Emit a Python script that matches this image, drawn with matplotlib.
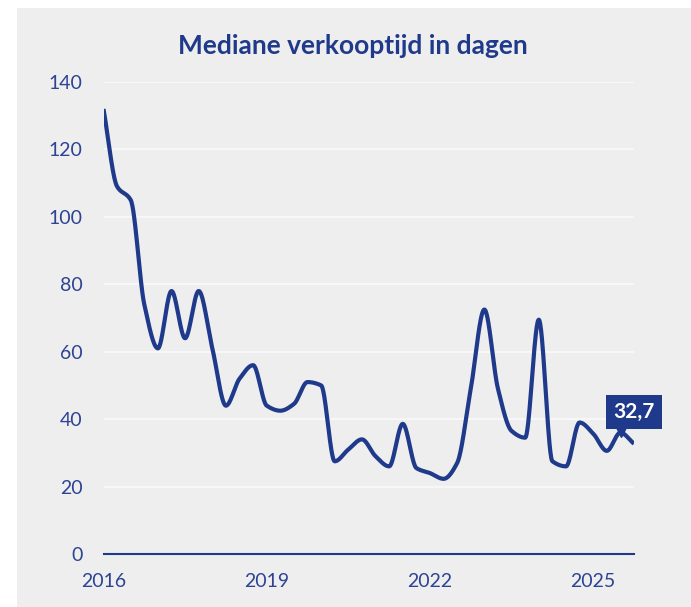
import matplotlib
matplotlib.use("Agg")
import matplotlib.pyplot as plt
from matplotlib.patches import Rectangle
from matplotlib.transforms import offset_copy
import numpy as np

plt.rcParams['font.family'] = ['Lato', 'DejaVu Sans']

BLAUW = '#1f3a8a'
TEKST = '#2d4393'

# kwartalen 2016-K1 .. 2025-K4
kwartalen = [f"{j}-K{k}" for j in range(2016, 2026) for k in range(1, 5)]
verkooptijd = [132, 109, 105, 74, 61, 78, 64, 78, 61, 44,
               52, 56, 44, 42.5, 44.5, 51, 50, 27.5, 31, 34,
               29, 26, 38.6, 25.5, 24, 22.3, 27, 49, 72.5, 49,
               36.5, 34.5, 69.5, 27.5, 26, 39, 35.7, 30.6, 36, 32.7]
jaar_labels = ['2016', '2019', '2022', '2025']
y_ticks = [0, 20, 40, 60, 80, 100, 120, 140]
laatste_label = '32,7'


def monotone_curve(y, n=1200):
    # Fritsch-Carlson monotone cubic, only used to draw a smooth line
    y = np.asarray(y, dtype=float)
    x = np.arange(len(y), dtype=float)
    d = np.diff(y)
    m = np.zeros_like(y)
    m[0], m[-1] = d[0], d[-1]
    for i in range(1, len(y) - 1):
        if d[i - 1] * d[i] > 0:
            m[i] = 2 / (1 / d[i - 1] + 1 / d[i])
    xs = np.linspace(0, x[-1], n)
    idx = np.clip(np.floor(xs).astype(int), 0, len(y) - 2)
    t = xs - idx
    h00 = 2 * t**3 - 3 * t**2 + 1
    h10 = t**3 - 2 * t**2 + t
    h01 = -2 * t**3 + 3 * t**2
    h11 = t**3 - t**2
    ys = h00 * y[idx] + h10 * m[idx] + h01 * y[idx + 1] + h11 * m[idx + 1]
    return xs, ys


fig = plt.figure(figsize=(6.91, 6.07), dpi=100, facecolor='white')
fig.patches.append(Rectangle((17 / 691, 0), 1, 1 - 8 / 607, transform=fig.transFigure,
                             facecolor='#eeeeee', edgecolor='none', zorder=-10))

ax = fig.add_axes([103.5 / 691, 53 / 607, 530.5 / 691, 472 / 607])
ax.patch.set_visible(False)
ax.set_zorder(1)

xs, ys = monotone_curve(verkooptijd)
ax.plot(xs, ys, color=BLAUW, lw=3, solid_capstyle='butt', zorder=3)

ax.set_xlim(0, len(kwartalen) - 1)
ax.set_ylim(0, 140)
ax.set_yticks(y_ticks)
ax.set_xticks([kwartalen.index(j + '-K1') for j in jaar_labels])
ax.set_xticklabels(jaar_labels)
ax.tick_params(axis='both', length=0, labelsize=14, labelcolor=TEKST)
ax.tick_params(axis='y', pad=15)
ax.tick_params(axis='x', pad=14)
ax.grid(axis='y', color='#fafafa', lw=1.2, zorder=1)
ax.set_axisbelow(True)
for s in ['top', 'right', 'left']:
    ax.spines[s].set_visible(False)
ax.spines['bottom'].set_color(BLAUW)
ax.spines['bottom'].set_linewidth(1.5)

# label bij laatste waarde
lx, ly = len(verkooptijd) - 1, verkooptijd[-1]
ax.annotate(laatste_label, xy=(lx, ly), xytext=(0, 23), textcoords='offset points',
            ha='center', va='center', color='white', fontsize=15, fontweight='bold',
            bbox=dict(boxstyle='square,pad=0.35', fc=BLAUW, ec='none'),
            annotation_clip=False, zorder=5)
tri = offset_copy(ax.transData, fig=fig, x=-9.5, y=8.5, units='points')
ax.plot([lx], [ly], marker='v', ms=7, color=BLAUW, transform=tri, clip_on=False, zorder=5)

fig.text(353 / 691, 1 - 46 / 607, 'Mediane verkooptijd in dagen', ha='center', va='center',
         fontsize=19, fontweight='bold', color=BLAUW)

fig.savefig('out.png', dpi=100, facecolor='white')
